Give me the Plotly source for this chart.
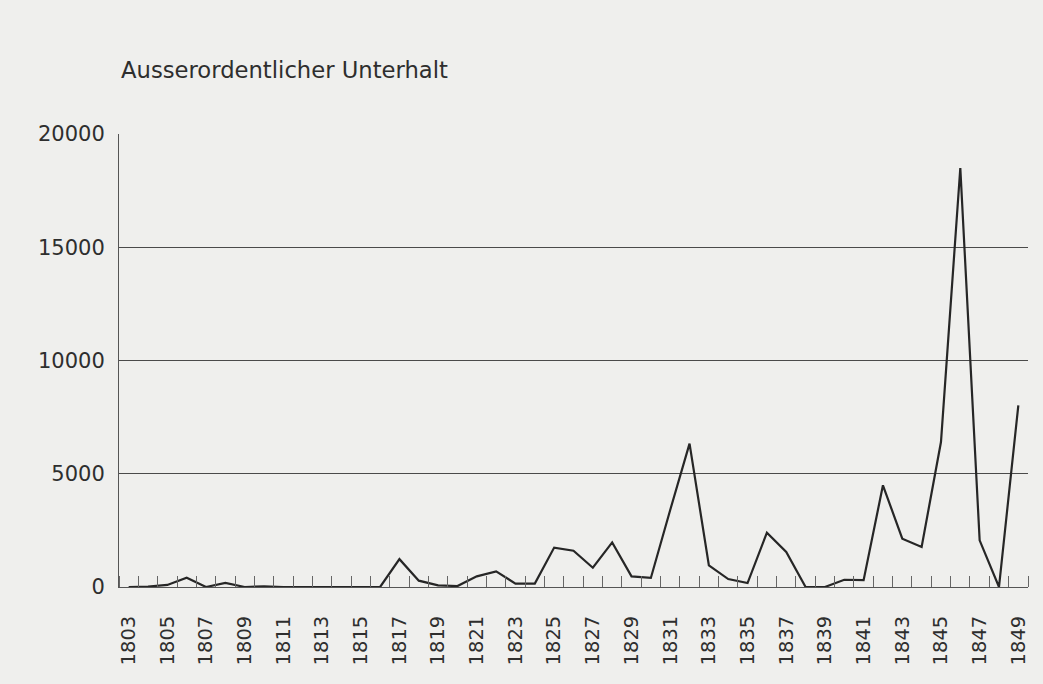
import plotly.graph_objects as go

years = list(range(1803, 1850))
values = [0, 20, 90, 410, 0, 180, 0, 30, 0, 0,
          0, 0, 0, 0, 1230, 280, 70, 40, 470, 690,
          150, 150, 1740, 1600, 850, 1970, 470, 400, 3400, 6330,
          955, 350, 175, 2400, 1545, 0, 0, 320, 300, 4490,
          2135, 1770, 6400, 18500, 2060, 0, 8020]
label_years = list(range(1803, 1850, 2))
y_ticks = [0, 5000, 10000, 15000, 20000]
title_text = "Ausserordentlicher Unterhalt"

FONT = "DejaVu Sans"
TXT = "#2e2e2e"
BG = "#efefed"

fig = go.Figure()
fig.add_trace(go.Scatter(
    x=years, y=values, mode="lines",
    line=dict(color="#262626", width=2.2),
    hoverinfo="x+y", showlegend=False,
))

fig.update_layout(
    width=1043, height=684,
    margin=dict(l=119, r=15, t=134, b=97),
    paper_bgcolor=BG, plot_bgcolor=BG,
    font=dict(family=FONT, color=TXT),
    annotations=[dict(
        text=title_text, xref="paper", yref="paper",
        x=0, y=1.142, xanchor="left", yanchor="middle",
        showarrow=False, font=dict(size=22.7, family=FONT, color=TXT),
    )],
)

fig.update_xaxes(
    range=[1802.5, 1849.5],
    tickmode="array", tickvals=label_years,
    ticktext=[str(y) for y in label_years],
    tickangle=-90, ticks="", ticklabelstandoff=20,
    tickfont=dict(size=19.5, family=FONT, color=TXT),
    showgrid=False, zeroline=False,
    showline=True, linecolor="#555555", linewidth=1,
    minor=dict(tickmode="linear", tick0=1803.5, dtick=1,
               ticks="inside", ticklen=11, tickcolor="#666666",
               tickwidth=1, showgrid=False),
)

fig.update_yaxes(
    range=[0, 20000],
    tickmode="array", tickvals=y_ticks,
    ticktext=[str(v) for v in y_ticks],
    ticks="", ticklabelstandoff=9,
    tickfont=dict(size=21, family=FONT, color=TXT),
    showgrid=True, gridcolor="#4a4a4a", gridwidth=1,
    zeroline=False,
    showline=True, linecolor="#555555", linewidth=1,
)

fig.write_html(
    "out.html",
    config={"displayModeBar": False},
    post_script="document.body.style.margin='0';document.body.style.overflow='hidden';document.body.style.background='#efefed';",
)
